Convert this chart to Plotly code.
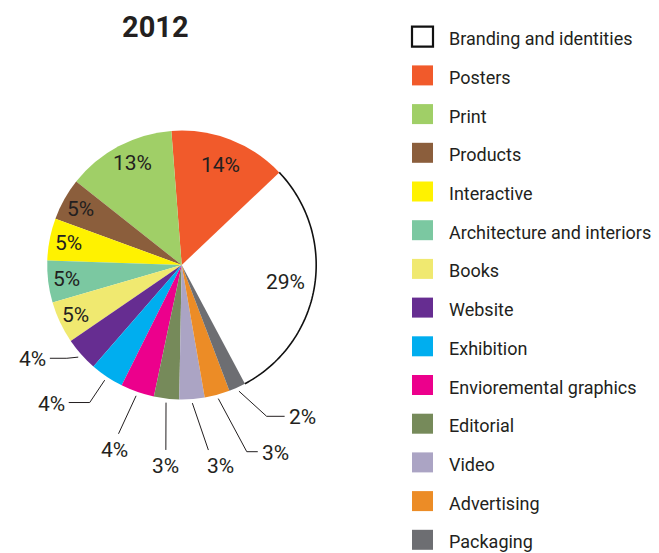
import math
import plotly.graph_objects as go

# ---- data ----
title_text = "2012"
categories = [
    "Branding and identities", "Posters", "Print", "Products", "Interactive",
    "Architecture and interiors", "Books", "Website", "Exhibition",
    "Envioremental graphics", "Editorial", "Video", "Advertising", "Packaging",
]
values = [29, 14, 13, 5, 5, 5, 5, 4, 4, 4, 3, 3, 3, 2]
colors = [
    "#FFFFFF", "#F15A2B", "#A0CF67", "#8B5E3C", "#FFF200",
    "#7BC8A1", "#F0E970", "#662D91", "#00AEEF", "#EC008C",
    "#768A5A", "#ABA4C4", "#EC8C26", "#6D6E72",
]

# ---- layout geometry (pixels) ----
W, H = 659, 553
CX, CY, R = 181.7, 265.0, 134.5      # pie centre and radius
ROTATION = 46.5                      # clockwise start of the first slice
FONT = "Roboto, Liberation Sans, sans-serif"
INK = "#231F20"

# label placement per slice: inside labels (radius in R units, angle offset deg)
inside_pos = {0: (0.78, 0), 1: (0.80, 0), 2: (0.84, 2.5), 3: (0.86, 0),
              4: (0.86, 0), 5: (0.86, 0), 6: (0.87, 0)}
# outside labels: (elbow radius, elbow angle offset deg, tail px, label mode)
outside = {
    7: (1.10, 2.6, -17, "side"),
    8: (1.23, 0.0, -21, "side"),
    9: (1.34, 1.3, 0, "below"),
    10: (1.38, -1.6, 0, "below"),
    11: (1.39, -3.8, 0, "below_right"),
    12: (1.47, -3.9, 11, "side"),
    13: (1.29, -4.9, 18, "side"),
}

total = sum(values)
k = 360.0 / total
mids = []
start = ROTATION + values[0] * k
for v in values:
    mids.append(start - v * k / 2)
    start -= v * k


def pt(r, deg):
    a = math.radians(deg)
    return r * math.sin(a), r * math.cos(a)


fig = go.Figure()

fig.add_trace(go.Pie(
    labels=categories, values=values, sort=False, direction="counterclockwise",
    rotation=ROTATION, marker=dict(colors=colors, line=dict(width=0)),
    textinfo="none", hoverinfo="label+percent", showlegend=False,
    domain=dict(x=[(CX - R) / W, (CX + R) / W], y=[1 - (CY + R) / H, 1 - (CY - R) / H]),
))

# invisible axes in units of the pie radius, centred on the pie
fig.add_trace(go.Scatter(x=[0], y=[0], mode="markers", marker=dict(opacity=0), hoverinfo="skip", showlegend=False))
fig.update_xaxes(range=[-CX / R, (W - CX) / R], domain=[0, 1], visible=False, fixedrange=True)
fig.update_yaxes(range=[-(H - CY) / R, CY / R], domain=[0, 1], visible=False, fixedrange=True)

shapes = []
annotations = []

# outline on the outer edge of the white slice
a0, a1 = ROTATION, ROTATION + values[0] * k
n = 80
arc = [pt(1.0, a0 + (a1 - a0) * j / n) for j in range(n + 1)]
shapes.append(dict(type="path", xref="x", yref="y", layer="above",
                   path="M " + " L ".join(f"{x:.5f},{y:.5f}" for x, y in arc),
                   line=dict(color="#111111", width=1.6)))

lab_font = dict(family=FONT, size=21, color=INK)

for i, (r, dth) in inside_pos.items():
    x, y = pt(r, mids[i] + dth)
    annotations.append(dict(x=x, y=y, xref="x", yref="y", text=f"{values[i]}%",
                            showarrow=False, font=lab_font, xanchor="center", yanchor="middle"))

for i, (er, dth, tail, mode) in outside.items():
    sx, sy = pt(1.03, mids[i])
    ex, ey = pt(er, mids[i] + dth)
    tx = ex + tail / R
    path = f"M {sx:.5f},{sy:.5f} L {ex:.5f},{ey:.5f}"
    if tail:
        path += f" L {tx:.5f},{ey:.5f}"
    shapes.append(dict(type="path", xref="x", yref="y", layer="above", path=path,
                       line=dict(color=INK, width=1)))
    if mode == "side":
        annotations.append(dict(x=tx, y=ey, xref="x", yref="y", text=f"{values[i]}%",
                                showarrow=False, font=lab_font,
                                xanchor="left" if tail > 0 else "right", yanchor="middle",
                                xshift=2 if tail > 0 else -2, yshift=-1))
    elif mode == "below":
        annotations.append(dict(x=ex, y=ey, xref="x", yref="y", text=f"{values[i]}%",
                                showarrow=False, font=lab_font, xanchor="center",
                                yanchor="top", yshift=-2, xshift=-4 if i == 9 else 0))
    else:
        annotations.append(dict(x=ex, y=ey, xref="x", yref="y", text=f"{values[i]}%",
                                showarrow=False, font=lab_font, xanchor="left",
                                yanchor="top", yshift=-2, xshift=-3))

# title
annotations.append(dict(x=155 / W, y=1 - 27 / H, xref="paper", yref="paper", text=f"<b>{title_text}</b>",
                        showarrow=False, font=dict(family=FONT, size=29, color=INK),
                        xanchor="center", yanchor="middle"))

# legend drawn as swatches + text
ROW0, STEP = 36.7, 38.7
for i, (name, col) in enumerate(zip(categories, colors)):
    yc = ROW0 + STEP * i
    if i == 0:
        line = dict(color="#111111", width=2.2)
    else:
        line = dict(width=0)
    shapes.append(dict(type="rect", xref="paper", yref="paper",
                       x0=412 / W, x1=433 / W, y0=1 - (yc + 10) / H, y1=1 - (yc - 10) / H,
                       fillcolor=col, line=line, layer="above"))
    annotations.append(dict(x=447 / W, y=1 - (yc + 2) / H, xref="paper", yref="paper", text=name,
                            showarrow=False, font=dict(family=FONT, size=18, color=INK),
                            xanchor="left", yanchor="middle"))

fig.update_layout(
    width=W, height=H, margin=dict(l=0, r=0, t=0, b=0),
    paper_bgcolor="white", plot_bgcolor="white",
    shapes=shapes, annotations=annotations,
)

fig.write_html("out.html")
